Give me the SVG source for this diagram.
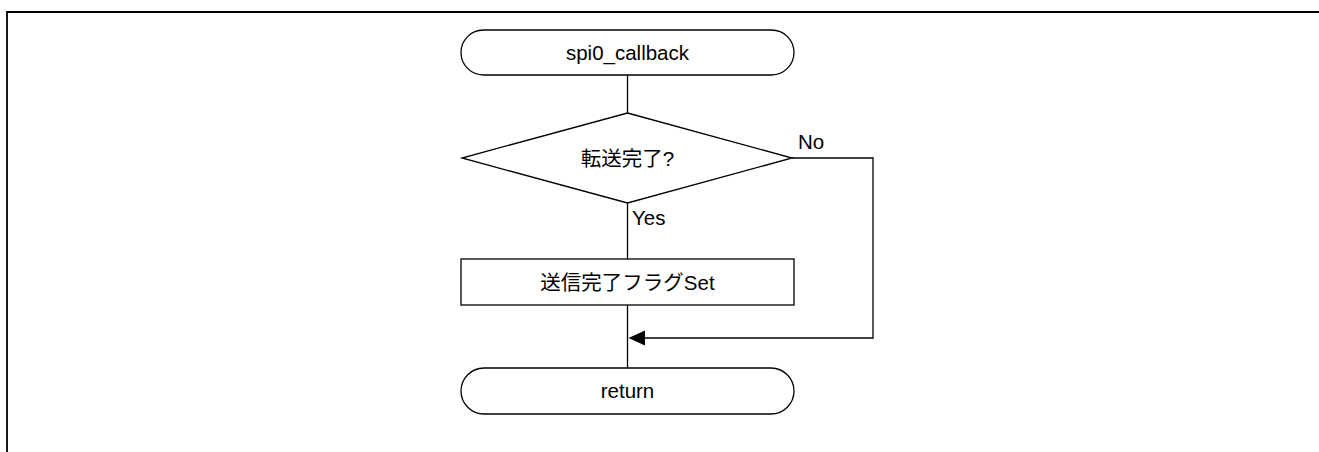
<svg xmlns="http://www.w3.org/2000/svg" width="1319" height="452" viewBox="0 0 1319 452" overflow="hidden">
<style>
.s{fill:#fff;stroke:#000;stroke-width:1.3}
.c{fill:none;stroke:#000;stroke-width:1.3}
.t{font-family:"Liberation Sans","Noto Sans CJK JP",sans-serif;font-size:20.5px;fill:#000}
.m{text-anchor:middle}
</style>
<rect width="1319" height="452" fill="#fff"/>
<path d="M7,452 V12 H1319" fill="none" stroke="#000" stroke-width="1.8"/>
<g id="connectors">
<line class="c" x1="627.5" y1="75" x2="627.5" y2="113"/>
<line class="c" x1="627.5" y1="203" x2="627.5" y2="259"/>
<line class="c" x1="627.5" y1="305" x2="627.5" y2="368"/>
<path class="c" d="M792,158 H873 V338 H645"/>
<path d="M628.5,338 L645,330.5 L645,345.5 Z" fill="#000"/>
<text class="t" x="798" y="149">No</text>
<text class="t" x="632" y="225">Yes</text>
</g>
<g id="start">
<rect class="s" x="461" y="30" width="333" height="45" rx="22.5"/>
<text class="t m" x="627.5" y="60">spi0_callback</text>
</g>
<g id="decision">
<polygon class="s" points="627.5,113 792,158 627.5,203 462,158"/>
<text class="t m" x="627.5" y="166">転送完了?</text>
</g>
<g id="process">
<rect class="s" x="461" y="259" width="333" height="46"/>
<text class="t m" x="627.5" y="290">送信完了フラグSet</text>
</g>
<g id="end">
<rect class="s" x="461" y="368" width="333" height="46" rx="23"/>
<text class="t m" x="627.5" y="398">return</text>
</g>
</svg>
